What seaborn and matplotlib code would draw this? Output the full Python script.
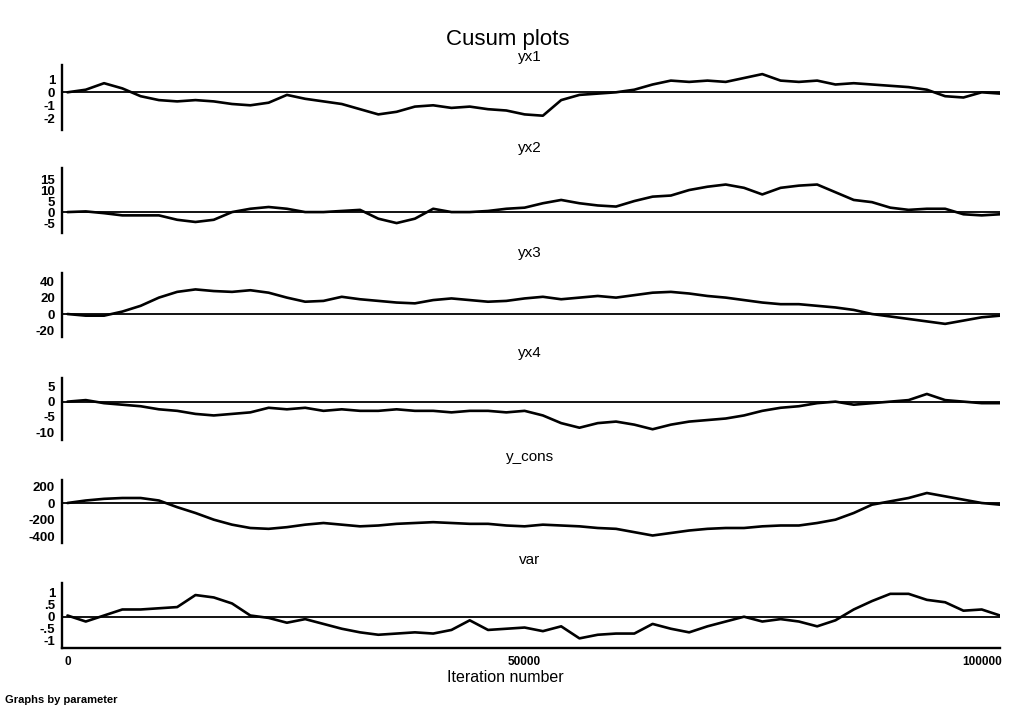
import matplotlib
matplotlib.use("Agg")
import matplotlib.pyplot as plt
import seaborn as sns
import pandas as pd

# ---------------- data ----------------
iterations = [0, 2000, 4000, 6000, 8000, 10000, 12000, 14000, 16000, 18000,
              20000, 22000, 24000, 26000, 28000, 30000, 32000, 34000, 36000, 38000,
              40000, 42000, 44000, 46000, 48000, 50000, 52000, 54000, 56000, 58000,
              60000, 62000, 64000, 66000, 68000, 70000, 72000, 74000, 76000, 78000,
              80000, 82000, 84000, 86000, 88000, 90000, 92000, 94000, 96000, 98000,
              100000, 102000]

yx1 = [0.0, 0.2, 0.7, 0.3, -0.3, -0.6, -0.7, -0.6, -0.7, -0.9, -1.0, -0.8, -0.2,
       -0.5, -0.7, -0.9, -1.3, -1.7, -1.5, -1.1, -1.0, -1.2, -1.1, -1.3, -1.4,
       -1.7, -1.8, -0.6, -0.2, -0.1, 0.0, 0.2, 0.6, 0.9, 0.8, 0.9, 0.8, 1.1, 1.4,
       0.9, 0.8, 0.9, 0.6, 0.7, 0.6, 0.5, 0.4, 0.2, -0.3, -0.4, 0.0, -0.1]

yx2 = [0, 0.3, -0.5, -1.5, -1.5, -1.5, -3.5, -4.5, -3.5, 0, 1.5, 2.3, 1.5, 0, 0,
       0.5, 1, -3, -5, -3, 1.5, 0, 0, 0.5, 1.5, 2, 4, 5.5, 4, 3, 2.5, 5, 7, 7.5,
       10, 11.5, 12.5, 11, 8, 11, 12, 12.5, 9, 5.5, 4.5, 2, 1, 1.5, 1.5, -1, -1.5, -1]

yx3 = [0, -2, -2, 3, 10, 20, 27, 30, 28, 27, 29, 26, 20, 15, 16, 21, 18, 16, 14,
       13, 17, 19, 17, 15, 16, 19, 21, 18, 20, 22, 20, 23, 26, 27, 25, 22, 20, 17,
       14, 12, 12, 10, 8, 5, 0, -3, -6, -9, -12, -8, -4, -2]

yx4 = [0, 0.5, -0.5, -1, -1.5, -2.5, -3, -4, -4.5, -4, -3.5, -2, -2.5, -2, -3,
       -2.5, -3, -3, -2.5, -3, -3, -3.5, -3, -3, -3.5, -3, -4.5, -7, -8.5, -7,
       -6.5, -7.5, -9, -7.5, -6.5, -6, -5.5, -4.5, -3, -2, -1.5, -0.5, 0, -1,
       -0.5, 0, 0.5, 2.5, 0.5, 0, -0.5, -0.5]

y_cons = [0, 30, 50, 60, 60, 30, -50, -120, -200, -260, -300, -310, -290, -260,
          -240, -260, -280, -270, -250, -240, -230, -240, -250, -250, -270, -280,
          -260, -270, -280, -300, -310, -350, -390, -360, -330, -310, -300, -300,
          -280, -270, -270, -240, -200, -120, -20, 20, 60, 120, 80, 40, 0, -20]

var = [0.05, -0.2, 0.05, 0.3, 0.3, 0.35, 0.4, 0.9, 0.8, 0.55, 0.05, -0.05, -0.25,
       -0.1, -0.3, -0.5, -0.65, -0.75, -0.7, -0.65, -0.7, -0.55, -0.15, -0.55,
       -0.5, -0.45, -0.6, -0.4, -0.9, -0.75, -0.7, -0.7, -0.3, -0.5, -0.65, -0.4,
       -0.2, 0, -0.2, -0.1, -0.2, -0.4, -0.15, 0.3, 0.65, 0.95, 0.95, 0.7, 0.6,
       0.25, 0.3, 0.05]

panel_names = ["yx1", "yx2", "yx3", "yx4", "y_cons", "var"]
ytick_values = [[1, 0, -1, -2], [15, 10, 5, 0, -5], [40, 20, 0, -20],
                [5, 0, -5, -10], [200, 0, -200, -400], [1, 0.5, 0, -0.5, -1]]
ytick_labels = [["1", "0", "-1", "-2"], ["15", "10", "5", "0", "-5"],
                ["40", "20", "0", "-20"], ["5", "0", "-5", "-10"],
                ["200", "0", "-200", "-400"], ["1", ".5", "0", "-.5", "-1"]]
xtick_values = [0, 50000, 100000]
xtick_labels = ["0", "50000", "100000"]

df = pd.DataFrame({"iteration": iterations, "yx1": yx1, "yx2": yx2, "yx3": yx3,
                   "yx4": yx4, "y_cons": y_cons, "var": var})

# ---------------- layout ----------------
sns.set_style("white")
plt.rcParams["font.family"] = ["Liberation Sans", "DejaVu Sans"]

W, H = 1010, 705
fig = plt.figure(figsize=(W / 100, H / 100), dpi=100)

panel_px = [(65, 130), (168, 233), (273, 337), (378, 440), (480, 543), (583, 648)]
title_px = [57, 148, 253, 353, 457, 560]
ylims = [(-2.9, 2.1), (-9.5, 20), (-28, 50), (-12.5, 7.7), (-480, 276), (-1.3, 1.4)]

left_px, right_px = 62, 1000
for i, name in enumerate(panel_names):
    top, bot = panel_px[i]
    ax = fig.add_axes([left_px / W, 1 - bot / H, (right_px - left_px) / W, (bot - top) / H])
    sns.lineplot(data=df, x="iteration", y=name, ax=ax, color="black", linewidth=1.9)
    ax.axhline(0, color="black", linewidth=1.3, zorder=1)
    ax.set_xlim(-600, 102000)
    ax.set_ylim(*ylims[i])
    ax.set_yticks(ytick_values[i])
    ax.set_yticklabels(ytick_labels[i], fontsize=9.5, fontweight="bold")
    ax.set_xlabel("")
    ax.set_ylabel("")
    for s in ["top", "right"]:
        ax.spines[s].set_visible(False)
    ax.spines["left"].set_linewidth(1.7)
    ax.spines["left"].set_color("black")
    ax.tick_params(axis="y", direction="out", length=3, width=1.2, pad=2, colors="black")
    if i < len(panel_names) - 1:
        ax.spines["bottom"].set_visible(False)
        ax.set_xticks([])
    else:
        ax.spines["bottom"].set_linewidth(1.7)
        ax.spines["bottom"].set_color("black")
        ax.set_xticks(xtick_values)
        ax.set_xticklabels(xtick_labels, fontsize=8.5, fontweight="bold")
        ax.tick_params(axis="x", direction="out", length=3, width=1.2, pad=3, colors="black")
    fig.text(530 / W, 1 - title_px[i] / H, name, ha="center", va="center",
             fontsize=11, color="black")

fig.text(508 / W, 1 - 40 / H, "Cusum plots", ha="center", va="center",
         fontsize=16, color="black")
fig.text(505 / W, 1 - 677 / H, "Iteration number", ha="center", va="center",
         fontsize=11.5, color="black")
fig.text(5 / W, 1 - 700 / H, "Graphs by parameter", ha="left", va="center",
         fontsize=8, fontweight="bold", color="black")

fig.savefig("out.png", dpi=100, facecolor="white")
